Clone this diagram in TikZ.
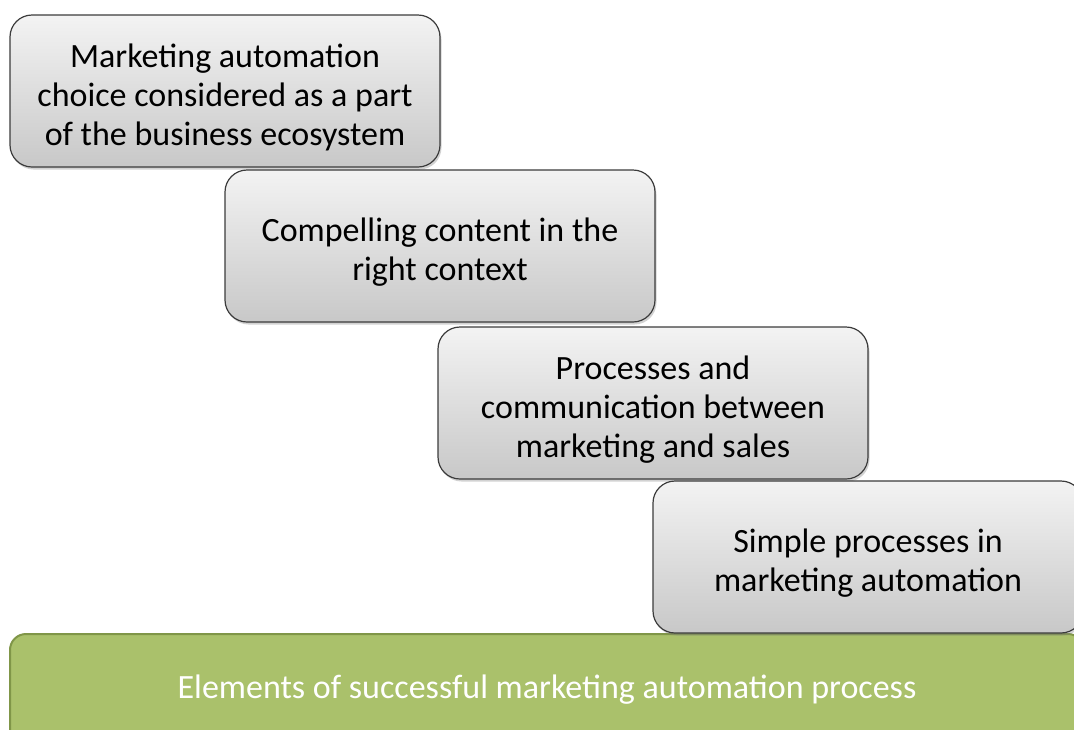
\documentclass[tikz,border=0pt]{standalone}
\usepackage{fontspec}
\setmainfont{Carlito}
\usetikzlibrary{shadows}

\definecolor{boxtop}{RGB}{243,243,243}
\definecolor{boxbottom}{RGB}{200,200,200}
\definecolor{boxline}{RGB}{60,60,60}
\definecolor{basefill}{RGB}{170,193,107}
\definecolor{baseline}{RGB}{128,150,72}

% extra room above the first line, so the text sits a little low in its box
\newcommand{\topgap}{\rule{0pt}{36pt}}

\tikzset{
  stepbox/.style={draw=boxline, line width=1.2pt, rounded corners=22pt,
    top color=boxtop, bottom color=boxbottom,
    minimum width=430pt, minimum height=152pt, inner sep=0pt,
    align=center, font=\fontsize{34}{39}\selectfont,
    drop shadow={shadow xshift=1.5pt, shadow yshift=-2.5pt, opacity=0.35}},
  basebox/.style={draw=baseline, line width=2pt, rounded corners=16pt,
    fill=basefill, text=white,
    minimum width=1074pt, minimum height=112pt, inner sep=0pt,
    font=\fontsize{34}{39}\selectfont},
}

\begin{document}
\begin{tikzpicture}[x=1pt, y=-1pt]
    \clip (0, 0) rectangle (1074, 729);
    \fill[white] (0, 0) rectangle (1074, 729);
    \node[basebox] (base) at (547, 690) {Elements of successful marketing automation process};
    \node[stepbox] (ecosystem) at (225, 91) {\topgap Marketing automation\\choice considered as a part\\of the business ecosystem};
    \node[stepbox] (content) at (440, 246) {\topgap Compelling content in the\\right context};
    \node[stepbox] (sales) at (653, 403) {\topgap Processes and\\communication between\\marketing and sales};
    \node[stepbox] (simple) at (868, 557) {\topgap Simple processes in\\marketing automation};
\end{tikzpicture}
\end{document}
